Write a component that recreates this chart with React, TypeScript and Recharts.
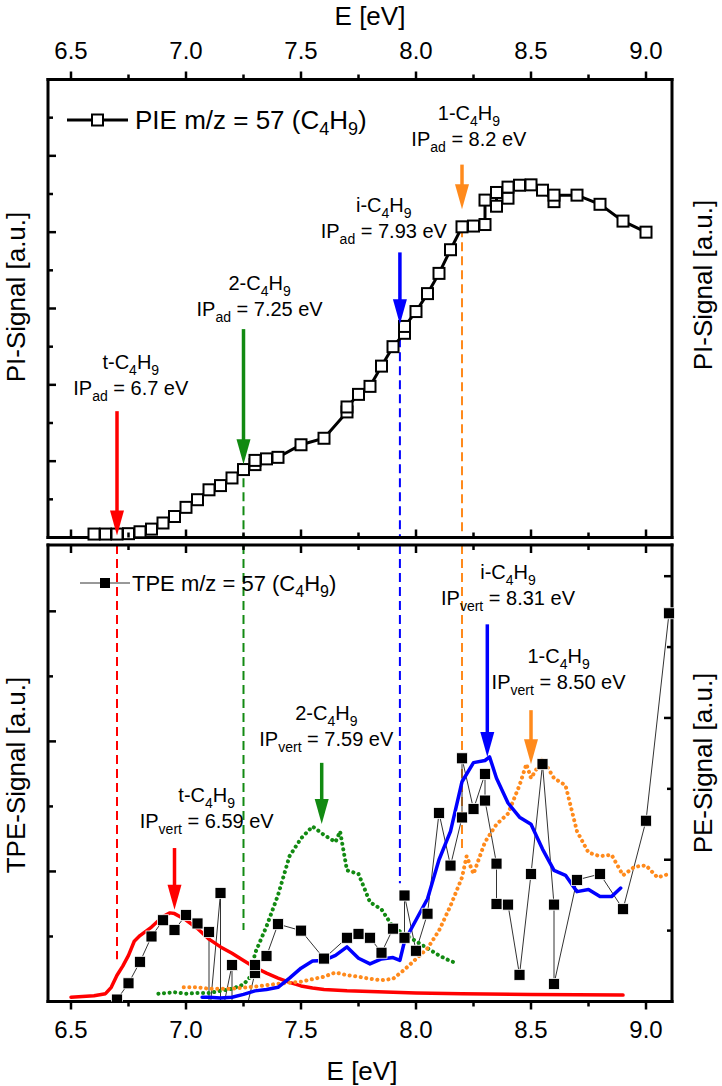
import React from 'react';
import { ComposedChart, Line, XAxis, YAxis, ReferenceLine, ReferenceDot } from 'recharts';

const FONT = '"Liberation Sans", Arial, Helvetica, sans-serif';
const W = 722;
const H = 1086;

// axis ticks
const xTicks = [6.5, 6.75, 7, 7.25, 7.5, 7.75, 8, 8.25, 8.5, 8.75, 9];
const piTicks = [1, 2, 3, 4, 5, 6, 7, 8, 9, 10, 11];
const tpeTicks = [1, 2, 3, 4, 5, 6];
const peTicks = [1, 2, 3, 4, 5, 6];

// PIE m/z = 57
const pieEnergy = [6.6, 6.65, 6.7, 6.75, 6.8, 6.85, 6.9, 6.95, 7.0, 7.05, 7.1, 7.15, 7.2, 7.25, 7.3, 7.3, 7.35, 7.4, 7.5, 7.6, 7.7, 7.7, 7.75, 7.8, 7.85, 7.9, 7.95, 7.95, 8.0, 8.05, 8.1, 8.15, 8.2, 8.25, 8.3, 8.3, 8.35, 8.35, 8.4, 8.4, 8.45, 8.5, 8.55, 8.6, 8.6, 8.7, 8.8, 8.9, 9.0];
const pieSignal = [0.09, 0.09, 0.09, 0.1, 0.15, 0.22, 0.38, 0.55, 0.79, 0.99, 1.25, 1.36, 1.56, 1.78, 1.91, 2.02, 2.06, 2.1, 2.43, 2.6, 3.29, 3.42, 3.75, 3.96, 4.49, 5.0, 5.35, 5.53, 5.92, 6.39, 6.92, 7.54, 8.14, 8.16, 8.2, 8.84, 9.04, 8.68, 8.89, 9.18, 9.23, 9.24, 9.1, 8.8, 8.97, 8.97, 8.73, 8.29, 8.0];

// TPE m/z = 57 (a few points fall below the axis and are clipped)
const tpeEnergy = [6.7, 6.75, 6.8, 6.85, 6.9, 6.95, 7.0, 7.05, 7.1, 7.1, 7.15, 7.15, 7.2, 7.2, 7.25, 7.3, 7.3, 7.35, 7.4, 7.5, 7.6, 7.7, 7.75, 7.8, 7.85, 7.9, 7.95, 7.95, 8.0, 8.05, 8.1, 8.15, 8.2, 8.2, 8.25, 8.3, 8.3, 8.35, 8.35, 8.4, 8.45, 8.5, 8.55, 8.6, 8.6, 8.7, 8.8, 8.9, 9.0, 9.1];
const tpeSignal = [0.03, 0.28, 0.61, 1.0, 1.25, 1.1, 1.33, 1.2, 1.07, -0.3, 1.67, -0.3, 0.56, -0.3, -0.3, 0.44, 0.56, 0.7, 1.19, 1.09, 0.66, 0.98, 1.04, 0.98, 0.75, 1.12, 0.98, 1.63, 0.78, 1.35, 2.9, 2.09, 2.83, 3.74, 2.96, 3.5, 3.09, 2.12, 1.5, 1.49, 0.41, 1.96, 3.65, 1.49, 0.27, 1.87, 1.96, 1.42, 2.78, 5.97];

// PE spectra
const tertEnergy = [6.5, 6.55, 6.6, 6.65, 6.675, 6.7, 6.725, 6.75, 6.775, 6.8, 6.85, 6.9, 6.93, 6.95, 7.0, 7.05, 7.1, 7.15, 7.2, 7.25, 7.3, 7.35, 7.4, 7.45, 7.5, 7.55, 7.6, 7.7, 7.8, 8.0, 8.2, 8.5, 8.9];
const tertSignal = [0.06, 0.07, 0.08, 0.11, 0.2, 0.37, 0.5, 0.65, 0.85, 0.93, 1.05, 1.2, 1.25, 1.24, 1.15, 1.03, 0.88, 0.77, 0.68, 0.58, 0.48, 0.4, 0.33, 0.27, 0.22, 0.19, 0.17, 0.15, 0.14, 0.12, 0.11, 0.1, 0.09];

const secEnergy = [6.88, 6.95, 7.0, 7.05, 7.1, 7.15, 7.2, 7.25, 7.28, 7.3, 7.35, 7.4, 7.45, 7.5, 7.55, 7.6, 7.65, 7.67, 7.7, 7.75, 7.8, 7.85, 7.9, 7.95, 8.0, 8.05, 8.1, 8.15, 8.18];
const secSignal = [0.11, 0.13, 0.11, 0.12, 0.12, 0.15, 0.18, 0.24, 0.35, 0.68, 1.06, 1.5, 2.05, 2.3, 2.47, 2.35, 2.25, 2.4, 1.85, 1.8, 1.4, 1.3, 1.05, 0.95, 0.85, 0.75, 0.65, 0.57, 0.54];

const isoEnergy = [7.07, 7.1, 7.15, 7.2, 7.25, 7.3, 7.35, 7.4, 7.45, 7.5, 7.55, 7.6, 7.65, 7.7, 7.75, 7.8, 7.85, 7.9, 7.93, 7.95, 8.0, 8.05, 8.1, 8.15, 8.2, 8.25, 8.3, 8.32, 8.35, 8.4, 8.45, 8.5, 8.55, 8.6, 8.65, 8.7, 8.75, 8.8, 8.85, 8.89];
const isoSignal = [0.06, 0.06, 0.05, 0.06, 0.1, 0.15, 0.17, 0.2, 0.33, 0.47, 0.57, 0.58, 0.65, 0.77, 0.61, 0.53, 0.6, 0.62, 0.58, 0.85, 1.15, 1.45, 2.0, 2.4, 3.1, 3.37, 3.4, 3.45, 3.15, 2.8, 2.6, 2.5, 2.15, 1.85, 1.78, 1.55, 1.58, 1.48, 1.48, 1.6];

const nEnergy = [6.99, 7.05, 7.1, 7.2, 7.3, 7.4, 7.5, 7.6, 7.65, 7.7, 7.75, 7.8, 7.85, 7.9, 7.95, 8.0, 8.05, 8.1, 8.15, 8.2, 8.22, 8.25, 8.3, 8.35, 8.4, 8.45, 8.48, 8.5, 8.55, 8.6, 8.65, 8.7, 8.75, 8.8, 8.85, 8.9, 8.95, 9.0, 9.05, 9.1];
const nSignal = [0.2, 0.2, 0.18, 0.18, 0.21, 0.25, 0.28, 0.35, 0.41, 0.37, 0.35, 0.32, 0.3, 0.32, 0.45, 0.6, 0.75, 1.0, 1.35, 1.75, 2.05, 1.8, 2.25, 2.5, 2.65, 3.05, 3.35, 3.15, 3.42, 3.15, 3.05, 2.4, 2.1, 2.05, 2.07, 1.78, 1.9, 1.92, 1.75, 1.8];

const zip = (e: number[], v: number[]) => e.map((x, i) => ({ e: x, v: v[i] }));

const RED = '#ff0000';
const GREEN = '#128a12';
const BLUE = '#0000ff';
const ORANGE = '#ff8a1c';

// annotations: arrow at x (from -> to), text block centred at (tx, ty)
const topNotes = [
  { name: 't', ip: '6.7', color: RED, x: 6.7, from: 3.31, to: 0.05, tx: 6.76, ty: 3.93, dash: null },
  { name: '2', ip: '7.25', color: GREEN, x: 7.25, from: 5.46, to: 1.92, tx: 7.32, ty: 5.98, dash: 1.92 },
  { name: 'i', ip: '7.93', color: BLUE, x: 7.93, from: 7.47, to: 5.59, tx: 7.86, ty: 8.02, dash: 5.59 },
  { name: '1', ip: '8.2', color: ORANGE, x: 8.2, from: 9.77, to: 8.6, tx: 8.23, ty: 10.45, dash: 8.1 },
];
const bottomNotes = [
  { name: 't', ip: '6.59', color: RED, x: 6.95, from: 2.36, to: 1.41, tx: 7.09, ty: 2.77 },
  { name: '2', ip: '7.59', color: GREEN, x: 7.59, from: 3.67, to: 2.73, tx: 7.61, ty: 4.03 },
  { name: 'i', ip: '8.31', color: BLUE, x: 8.31, from: 5.8, to: 3.76, tx: 8.4, ty: 6.2 },
  { name: '1', ip: '8.50', color: ORANGE, x: 8.5, from: 4.48, to: 3.65, tx: 8.62, ty: 4.91 },
];
const bottomDashes = [
  { x: 6.7, end: 0.65, color: RED },
  { x: 7.25, end: 1.1, color: GREEN },
  { x: 7.93, end: 1.82, color: BLUE },
  { x: 8.2, end: 2.34, color: ORANGE },
];

const X_DOMAIN: [number, number] = [6.4, 9.113];
const TPE_MAX = 7.02;
const PE_MAX = 6.44;

// frame positions of the two panels
const TOP_PANEL = { top: 79.5, bottom: 537.5 };
const BOTTOM_PANEL = { top: 545, bottom: 1001.5 };

const isMajorX = (v: number) => Math.abs(v * 2 - Math.round(v * 2)) < 1e-6;

// draws the tick on the bottom frame and its twin on the top frame
function xTick(plotH: number, labelsBelow: boolean) {
  return (props: any) => {
    const { x, y, payload, index } = props;
    const v = payload.value;
    const major = isMajorX(v);
    const len = major ? 8 : 5;
    const top = y - plotH;
    return (
      <g key={index}>
        <line x1={x} x2={x} y1={y} y2={labelsBelow ? y + len : y - len} stroke="#000" strokeWidth={2.5} />
        <line x1={x} x2={x} y1={top} y2={labelsBelow ? top + len : top - len} stroke="#000" strokeWidth={2.5} />
        {major && (
          <text x={x} y={labelsBelow ? y + 36 : top - 21} textAnchor="middle" fontSize={24} fontFamily={FONT} fill="#000">
            {v.toFixed(1)}
          </text>
        )}
      </g>
    );
  };
}

function yTick(side: 'left' | 'right') {
  return (props: any) => {
    const { x, y, payload, index } = props;
    const len = payload.value % 2 === 0 ? 8 : 5;
    const dir = side === 'left' ? 1 : -1;
    return <line key={index} x1={x} x2={x + dir * len} y1={y} y2={y} stroke="#000" strokeWidth={2.5} />;
  };
}

const hollowSquare = (p: any) => {
  const { cx, cy, index } = p;
  if (cx == null || cy == null) return <g key={index} />;
  return <rect key={index} x={cx - 5.5} y={cy - 5.5} width={11} height={11} fill="#fff" stroke="#000" strokeWidth={2} />;
};

const filledSquare = (p: any) => {
  const { cx, cy, index } = p;
  if (cx == null || cy == null) return <g key={index} />;
  return <rect key={index} x={cx - 5.5} y={cy - 5.5} width={11} height={11} fill="#000" stroke="#fff" strokeWidth={0.8} />;
};

const arrowHead = (color: string) => (p: any) => (
  <polygon points={`${p.cx},${p.cy} ${p.cx - 7},${p.cy - 25} ${p.cx + 7},${p.cy - 25}`} fill={color} />
);

const SUB = 6;
const chem = (fs: number) => [
  <tspan key="c">C</tspan>,
  <tspan key="4" dy={SUB} fontSize={fs}>4</tspan>,
  <tspan key="h" dy={-SUB}>H</tspan>,
  <tspan key="9" dy={SUB} fontSize={fs}>9</tspan>,
];

const noteText = (name: string, kind: string, ip: string) => (p: any) => (
  <g fontFamily={FONT} fontSize={20} fill="#000">
    <text x={p.cx} y={p.cy - 19} textAnchor="middle">
      <tspan>{name}-</tspan>
      {chem(14)}
    </text>
    <text x={p.cx} y={p.cy + 7} textAnchor="middle">
      <tspan>IP</tspan>
      <tspan dy={SUB} fontSize={14}>{kind}</tspan>
      <tspan dy={-SUB}>{` = ${ip} eV`}</tspan>
    </text>
  </g>
);

const axisLine = { stroke: '#000', strokeWidth: 3, strokeLinecap: 'square' as const };

// axes are 1px thick/wide, so each margin is the frame position minus 1
function axes(plotH: number, labelsBelow: boolean, yMaxL: number, yMaxR: number, lTicks: number[], rTicks: number[], clipL: boolean) {
  return [
    <XAxis key="xb" xAxisId="b" dataKey="e" type="number" domain={X_DOMAIN} ticks={xTicks} interval={0}
      height={1} tickSize={0} tickMargin={0} tickLine={false} axisLine={axisLine} tick={xTick(plotH, labelsBelow)} />,
    <XAxis key="xt" xAxisId="t" orientation="top" type="number" domain={X_DOMAIN} allowDataOverflow
      height={1} tickLine={false} axisLine={axisLine} tick={false} />,
    <YAxis key="yl" yAxisId="l" type="number" domain={[0, yMaxL]} allowDataOverflow={clipL} ticks={lTicks} interval={0}
      width={1} tickSize={0} tickMargin={0} tickLine={false} axisLine={axisLine} tick={yTick('left')} />,
    <YAxis key="yr" yAxisId="r" orientation="right" type="number" domain={[0, yMaxR]} ticks={rTicks} interval={0}
      width={1} tickSize={0} tickMargin={0} tickLine={false} axisLine={axisLine} tick={yTick('right')} />,
  ];
}

function TopPanel() {
  const pie = zip(pieEnergy, pieSignal);
  const plotH = TOP_PANEL.bottom - TOP_PANEL.top;
  return (
    <ComposedChart width={W} height={H} margin={{ top: TOP_PANEL.top - 1, right: 49, bottom: H - TOP_PANEL.bottom - 1, left: 47 }}>
      {axes(plotH, false, 12, 12, piTicks, piTicks, false)}

      {topNotes.filter((n) => n.dash !== null).map((n) => (
        <ReferenceLine key={'d' + n.name} xAxisId="b" yAxisId="l" ifOverflow="visible"
          segment={[{ x: n.x, y: n.dash as number }, { x: n.x, y: 0 }]}
          stroke={n.color} strokeWidth={2} strokeDasharray="9 5" />
      ))}

      <Line xAxisId="b" yAxisId="l" data={pie} dataKey="v" type="linear" stroke="#000" strokeWidth={3}
        dot={hollowSquare} activeDot={false} isAnimationActive={false} />

      {topNotes.map((n) => (
        <ReferenceLine key={'a' + n.name} xAxisId="b" yAxisId="l" ifOverflow="visible"
          segment={[{ x: n.x, y: n.from }, { x: n.x, y: n.to + 0.5 }]} stroke={n.color} strokeWidth={3.5} />
      ))}
      {topNotes.map((n) => (
        <ReferenceDot key={'h' + n.name} xAxisId="b" yAxisId="l" x={n.x} y={n.to} r={0} ifOverflow="visible"
          shape={arrowHead(n.color)} />
      ))}
      {topNotes.map((n) => (
        <ReferenceDot key={'t' + n.name} xAxisId="b" yAxisId="l" x={n.tx} y={n.ty} r={0} ifOverflow="visible"
          shape={noteText(n.name, 'ad', n.ip)} />
      ))}
    </ComposedChart>
  );
}

function BottomPanel() {
  const tpe = zip(tpeEnergy, tpeSignal);
  const plotH = BOTTOM_PANEL.bottom - BOTTOM_PANEL.top;
  const pe = [
    { key: 'tert', data: zip(tertEnergy, tertSignal), color: RED, dotted: false },
    { key: 'sec', data: zip(secEnergy, secSignal), color: GREEN, dotted: true },
    { key: 'n', data: zip(nEnergy, nSignal), color: ORANGE, dotted: true },
    { key: 'iso', data: zip(isoEnergy, isoSignal), color: BLUE, dotted: false },
  ];
  return (
    <ComposedChart width={W} height={H} margin={{ top: BOTTOM_PANEL.top - 1, right: 49, bottom: H - BOTTOM_PANEL.bottom - 1, left: 47 }}>
      {axes(plotH, true, TPE_MAX, PE_MAX, tpeTicks, peTicks, true)}

      {bottomDashes.map((d) => (
        <ReferenceLine key={'d' + d.x} xAxisId="b" yAxisId="l" ifOverflow="visible"
          segment={[{ x: d.x, y: TPE_MAX }, { x: d.x, y: d.end }]}
          stroke={d.color} strokeWidth={2} strokeDasharray="9 5" />
      ))}

      <Line xAxisId="b" yAxisId="l" data={tpe} dataKey="v" type="linear" stroke="#333" strokeWidth={1}
        dot={filledSquare} activeDot={false} isAnimationActive={false} />

      {pe.map((s) => (
        <Line key={s.key} xAxisId="b" yAxisId="r" data={s.data} dataKey="v" type="linear" stroke={s.color}
          strokeWidth={s.dotted ? 4 : 3.5} strokeDasharray={s.dotted ? '0.1 5.5' : undefined}
          strokeLinecap="round" strokeLinejoin="round"
          dot={false} activeDot={false} isAnimationActive={false} />
      ))}

      {bottomNotes.map((n) => (
        <ReferenceLine key={'a' + n.name} xAxisId="b" yAxisId="l" ifOverflow="visible"
          segment={[{ x: n.x, y: n.from }, { x: n.x, y: n.to + 0.3 }]} stroke={n.color} strokeWidth={3.5} />
      ))}
      {bottomNotes.map((n) => (
        <ReferenceDot key={'h' + n.name} xAxisId="b" yAxisId="l" x={n.x} y={n.to} r={0} ifOverflow="visible"
          shape={arrowHead(n.color)} />
      ))}
      {bottomNotes.map((n) => (
        <ReferenceDot key={'t' + n.name} xAxisId="b" yAxisId="l" x={n.tx} y={n.ty} r={0} ifOverflow="visible"
          shape={noteText(n.name, 'vert', n.ip)} />
      ))}
    </ComposedChart>
  );
}

function Overlay() {
  return (
    <svg width={W} height={H} style={{ position: 'absolute', left: 0, top: 0, pointerEvents: 'none' }} fontFamily={FONT} fill="#000">
      <text x={370} y={25} textAnchor="middle" fontSize={26}>E [eV]</text>
      <text x={362} y={1080} textAnchor="middle" fontSize={26}>E [eV]</text>
      <text transform="translate(25,297) rotate(-90)" textAnchor="middle" fontSize={26}>PI-Signal [a.u.]</text>
      <text transform="translate(712,285) rotate(-90)" textAnchor="middle" fontSize={26}>PI-Signal [a.u.]</text>
      <text transform="translate(25,775) rotate(-90)" textAnchor="middle" fontSize={26}>TPE-Signal [a.u.]</text>
      <text transform="translate(712,763) rotate(-90)" textAnchor="middle" fontSize={26}>PE-Signal [a.u.]</text>

      <line x1={67} x2={128} y1={120} y2={120} stroke="#000" strokeWidth={3} />
      <rect x={92} y={114.5} width={11} height={11} fill="#fff" stroke="#000" strokeWidth={2} />
      <text x={135} y={129} fontSize={26}>
        <tspan>PIE m/z = 57 (</tspan>
        {chem(18)}
        <tspan dy={-SUB}>)</tspan>
      </text>

      <line x1={80} x2={130} y1={583} y2={583} stroke="#333" strokeWidth={1} />
      <rect x={100} y={578} width={10} height={10} fill="#000" />
      <text x={132} y={591} fontSize={22}>
        <tspan>TPE m/z = 57 (</tspan>
        {chem(16)}
        <tspan dy={-SUB}>)</tspan>
      </text>
    </svg>
  );
}

export default function App() {
  return (
    <div style={{ position: 'absolute', left: 0, top: 0, width: W, height: H, background: '#fff', fontFamily: FONT }}>
      <div style={{ position: 'absolute', left: 0, top: 0 }}>
        <TopPanel />
      </div>
      <div style={{ position: 'absolute', left: 0, top: 0 }}>
        <BottomPanel />
      </div>
      <Overlay />
    </div>
  );
}
